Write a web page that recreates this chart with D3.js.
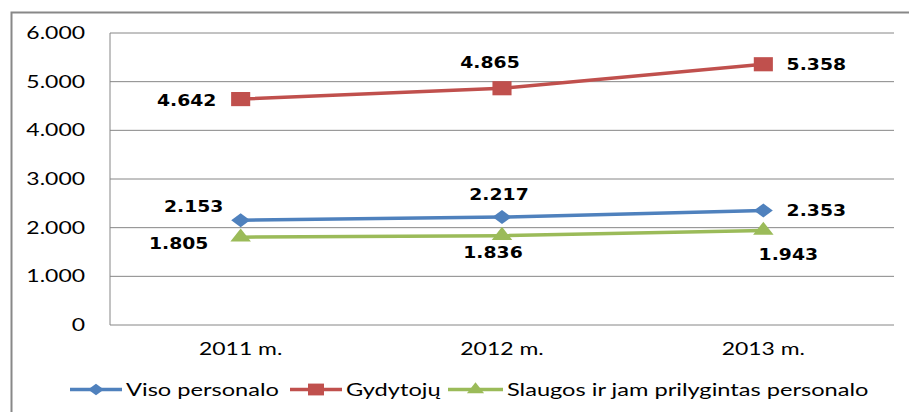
<!DOCTYPE html>
<html>
<head>
<meta charset="utf-8">
<script src="https://cdn.jsdelivr.net/npm/d3@7"></script>
<style>
  html, body { margin: 0; padding: 0; background: #fff; }
  svg { display: block; }
</style>
</head>
<body>
<div class="chart"></div>
<script>
// データ
const years = ["2011 m.", "2012 m.", "2013 m."];
const seriesNames = ["Viso personalo", "Gydytojų", "Slaugos ir jam prilygintas personalo"];
const visoValues = [2153, 2217, 2353];
const gydValues = [4642, 4865, 5358];
const slaugosValues = [1805, 1836, 1943];
const yTicks = [0, 1000, 2000, 3000, 4000, 5000, 6000];

// 元画像は横に引き伸ばされているので、内部座標を S 倍に伸ばして描く
const W = 909, H = 412;
const S = 1.35;
const plot = { left: 110, right: 894, top: 33, bottom: 325 }; // 画面上のpx

const colors = ["#4F81BD", "#C0504D", "#9BBB59"];
const symbols = [d3.symbolDiamond2, d3.symbolSquare, d3.symbolTriangle];
const symSize = [125, 200, 100];

// ラベルの位置（マーカーからのずれ、画面px）
const labelOffsets = [
  [[-47, -14], [-3, -23], [53, 0]],
  [[-54, 1], [-12, -26], [53, 0]],
  [[-62, 6], [-9, 17], [25, 24]]
];

const series = [visoValues, gydValues, slaugosValues].map((v, i) => ({
  name: seriesNames[i],
  values: v,
  color: colors[i],
  symbol: symbols[i],
  size: symSize[i]
}));

const svg = d3.select(".chart")
  .append("svg")
  .attr("width", W)
  .attr("height", H)
  .attr("viewBox", `0 0 ${W / S} ${H}`)
  .attr("preserveAspectRatio", "none");

// スケール
const x = d3.scalePoint().domain(years)
  .range([plot.left / S, plot.right / S]).padding(0.5);
const y = d3.scaleLinear().domain([0, 6000]).range([plot.bottom, plot.top]);

// 外枠
svg.append("rect")
  .attr("x", 11.5 / S).attr("y", 12.5)
  .attr("width", 1000).attr("height", 1000)
  .attr("fill", "none")
  .attr("stroke", "#888")
  .attr("stroke-width", 2)
  .attr("vector-effect", "non-scaling-stroke");

// グリッド線
svg.selectAll(".grid")
  .data(yTicks)
  .enter()
  .append("line")
  .attr("class", "grid")
  .attr("x1", plot.left / S).attr("x2", plot.right / S)
  .attr("y1", d => y(d)).attr("y2", d => y(d))
  .attr("stroke", "#868686")
  .attr("stroke-width", 1)
  .attr("vector-effect", "non-scaling-stroke");

// 縦軸線
svg.append("line")
  .attr("x1", plot.left / S).attr("x2", plot.left / S)
  .attr("y1", plot.top).attr("y2", plot.bottom)
  .attr("stroke", "#868686")
  .attr("stroke-width", 1)
  .attr("vector-effect", "non-scaling-stroke");

// 縦軸ラベル
const fmt = d => d === 0 ? "0" : d3.format(",")(d).replace(/,/g, ".");
svg.selectAll(".ytick")
  .data(yTicks)
  .enter()
  .append("text")
  .attr("class", "ytick")
  .attr("x", 85 / S)
  .attr("y", d => y(d))
  .attr("dy", "0.36em")
  .attr("text-anchor", "end")
  .style("font-family", "Lato, 'Open Sans', sans-serif")
  .style("font-size", "17px")
  .attr("fill", "#000")
  .text(fmt);

// 横軸ラベル
svg.selectAll(".xtick")
  .data(years)
  .enter()
  .append("text")
  .attr("class", "xtick")
  .attr("x", d => x(d))
  .attr("y", 355.5)
  .attr("text-anchor", "middle")
  .style("font-family", "Lato, 'Open Sans', sans-serif")
  .style("font-size", "17px")
  .attr("fill", "#000")
  .text(d => d);

// 折れ線
const line = d3.line()
  .x((d, i) => x(years[i]))
  .y(d => y(d));

svg.selectAll(".series-line")
  .data(series)
  .enter()
  .append("path")
  .attr("class", "series-line")
  .attr("d", d => line(d.values))
  .attr("fill", "none")
  .attr("stroke", d => d.color)
  .attr("stroke-width", 3.5)
  .attr("vector-effect", "non-scaling-stroke");

// マーカー
series.forEach((s, si) => {
  svg.selectAll(".marker-" + si)
    .data(s.values)
    .enter()
    .append("path")
    .attr("class", "marker-" + si)
    .attr("transform", (d, i) => `translate(${x(years[i])},${y(d)})`)
    .attr("d", d3.symbol().type(s.symbol).size(s.size))
    .attr("fill", s.color);
});

// データラベル（高さを合わせて幅を少し詰める）
series.forEach((s, si) => {
  svg.selectAll(".label-" + si)
    .data(s.values)
    .enter()
    .append("text")
    .attr("class", "label-" + si)
    .attr("x", (d, i) => x(years[i]) + labelOffsets[si][i][0] / S)
    .attr("y", (d, i) => y(d) + labelOffsets[si][i][1])
    .attr("dy", "0.36em")
    .attr("text-anchor", "middle")
    .style("font-family", "'DejaVu Sans', Verdana, sans-serif")
    .style("font-weight", "bold")
    .style("font-size", "16px")
    .attr("fill", "#000")
    .text(d => fmt(d))
    .each(function() {
      const len = this.getComputedTextLength();
      d3.select(this)
        .attr("textLength", len * 0.87)
        .attr("lengthAdjust", "spacingAndGlyphs");
    });
});

// 凡例
const legendY = 389.5;
const legendStarts = [70, 290, 448]; // 画面px
const legendLineLen = [52, 52, 55];
series.forEach((s, i) => {
  const g = svg.append("g")
    .attr("transform", `translate(${legendStarts[i] / S},${legendY})`);
  g.append("line")
    .attr("x1", 0).attr("x2", legendLineLen[i] / S)
    .attr("stroke", s.color)
    .attr("stroke-width", 3.5)
    .attr("vector-effect", "non-scaling-stroke");
  g.append("path")
    .attr("transform", `translate(${legendLineLen[i] / 2 / S},0)`)
    .attr("d", d3.symbol().type(s.symbol).size(s.size * 0.7))
    .attr("fill", s.color);
  g.append("text")
    .attr("x", (legendLineLen[i] + 4) / S)
    .attr("y", 6.5)
    .style("font-family", "Lato, 'Open Sans', sans-serif")
    .style("font-size", "17.5px")
    .attr("fill", "#000")
    .text(s.name);
});
</script>
</body>
</html>
